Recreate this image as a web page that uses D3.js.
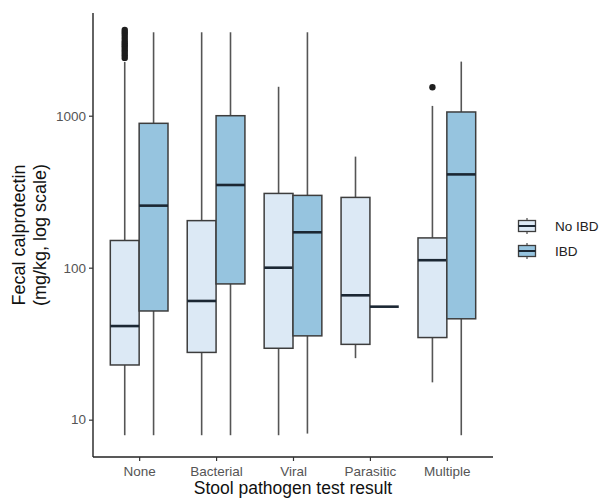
<!DOCTYPE html>
<html>
<head>
<meta charset="utf-8">
<script src="https://cdn.jsdelivr.net/npm/d3@7"></script>
<style>
  html, body { margin: 0; padding: 0; background: #fff; }
  svg { display: block; font-family: "Liberation Sans", Arial, sans-serif; }
</style>
</head>
<body>
<svg id="chart" width="600" height="498"></svg>
<script>
// ---- Data ----
const categories = ["None", "Bacterial", "Viral", "Parasitic", "Multiple"];
const groups = ["No IBD", "IBD"];

// No IBD box statistics per category
const noIbdLow    = [7.9, 7.9, 7.9, 25.4, 17.6];
const noIbdQ1     = [22.9, 27.7, 29.5, 31.3, 34.7];
const noIbdMedian = [41.3, 60.4, 100, 65.8, 112];
const noIbdQ3     = [151, 204, 308, 290, 157];
const noIbdHigh   = [2260, 3540, 1550, 538, 1160];

// IBD box statistics per category
const ibdLow    = [7.9, 7.9, 8.1, 55.4, 7.9];
const ibdQ1     = [51.9, 78.2, 35.6, 55.4, 46.1];
const ibdMedian = [256, 350, 171, 55.4, 411];
const ibdQ3     = [891, 1000, 299, 55.4, 1058];
const ibdHigh   = [3540, 3540, 3540, 55.4, 2270];

// Outliers
const outlierCategory = ["None", "None", "None", "None", "None", "None", "None", "None", "None", "None", "None", "None", "Multiple"];
const outlierGroup    = ["No IBD", "No IBD", "No IBD", "No IBD", "No IBD", "No IBD", "No IBD", "No IBD", "No IBD", "No IBD", "No IBD", "No IBD", "No IBD"];
const outlierValue    = [2400, 2500, 2600, 2700, 2800, 2900, 3000, 3100, 3250, 3400, 3530, 3660, 1540];

const yTicks = [10, 100, 1000];
const yTickLabels = ["10", "100", "1000"];

const xTitle = "Stool pathogen test result";
const yTitleLines = ["Fecal calprotectin", "(mg/kg, log scale)"];

(function draw() {
// ---- Build tables ----
const boxes = [];
categories.forEach((c, i) => {
  boxes.push({cat: c, grp: "No IBD", low: noIbdLow[i], q1: noIbdQ1[i], med: noIbdMedian[i], q3: noIbdQ3[i], high: noIbdHigh[i]});
  boxes.push({cat: c, grp: "IBD", low: ibdLow[i], q1: ibdQ1[i], med: ibdMedian[i], q3: ibdQ3[i], high: ibdHigh[i]});
});
const outliers = outlierValue.map((v, i) => ({cat: outlierCategory[i], grp: outlierGroup[i], v}));

// ---- Layout ----
const svg = d3.select("#chart");
const pLeft = 93, pRight = 493, pTop = 13, pBottom = 457;

const x = d3.scalePoint().domain(categories).range([pLeft, pRight]).padding(0.6);
const step = x.step();
const dodge = d3.scaleBand().domain(groups).range([-0.375 * step, 0.375 * step]);
const bw = dodge.bandwidth();

const y = d3.scaleLog().domain([5.68, 4740]).range([pBottom, pTop]);

const fill = d3.scaleOrdinal().domain(groups).range(["#dce9f5", "#96c4df"]);
const strokeCol = "#3d3d3d";
const whiskerCol = "#555";

// ---- Boxes ----
const g = svg.append("g");
const bx = d => x(d.cat) + dodge(d.grp);

const bg = g.selectAll("g.box").data(boxes).join("g").attr("class", "box");
bg.append("line")
  .attr("x1", d => bx(d) + bw / 2).attr("x2", d => bx(d) + bw / 2)
  .attr("y1", d => y(d.q3)).attr("y2", d => y(d.high))
  .attr("stroke", whiskerCol).attr("stroke-width", 1.6);
bg.append("line")
  .attr("x1", d => bx(d) + bw / 2).attr("x2", d => bx(d) + bw / 2)
  .attr("y1", d => y(d.q1)).attr("y2", d => y(d.low))
  .attr("stroke", whiskerCol).attr("stroke-width", 1.6);
bg.filter(d => d.q3 > d.q1).append("rect")
  .attr("x", d => bx(d)).attr("width", bw)
  .attr("y", d => y(d.q3)).attr("height", d => y(d.q1) - y(d.q3))
  .attr("fill", d => fill(d.grp))
  .attr("stroke", strokeCol).attr("stroke-width", 1.5);
bg.append("line")
  .attr("x1", d => bx(d)).attr("x2", d => bx(d) + bw)
  .attr("y1", d => y(d.med)).attr("y2", d => y(d.med))
  .attr("stroke", "#1b2733").attr("stroke-width", 2.6);

g.selectAll("circle.out").data(outliers).join("circle")
  .attr("class", "out")
  .attr("cx", d => x(d.cat) + dodge(d.grp) + bw / 2)
  .attr("cy", d => y(d.v))
  .attr("r", 3.2)
  .attr("fill", "#1e1e1e");

// ---- Axes ----
const yAxis = d3.axisLeft(y).tickValues(yTicks).tickFormat((d, i) => yTickLabels[i]).tickSize(4).tickPadding(3);
const ya = svg.append("g").attr("transform", `translate(${pLeft},0)`).call(yAxis);
ya.select(".domain").attr("d", `M0,${pTop}V${pBottom}`).attr("stroke", "#222").attr("stroke-width", 1.4);
ya.selectAll(".tick line").attr("stroke", "#333").attr("stroke-width", 1.2);
ya.selectAll(".tick text").attr("fill", "#555").attr("font-size", 13.5).attr("font-family", "Liberation Sans, Arial, sans-serif");

const xAxis = d3.axisBottom(x).tickSize(4).tickPadding(5);
const xa = svg.append("g").attr("transform", `translate(0,${pBottom})`).call(xAxis);
xa.select(".domain").attr("d", `M${pLeft},0H${pRight}`).attr("stroke", "#222").attr("stroke-width", 1.4);
xa.selectAll(".tick line").attr("stroke", "#333").attr("stroke-width", 1.2);
xa.selectAll(".tick text").attr("fill", "#555").attr("font-size", 13.5).attr("font-family", "Liberation Sans, Arial, sans-serif");

// ---- Titles ----
svg.append("text")
  .attr("x", (pLeft + pRight) / 2).attr("y", 494)
  .attr("text-anchor", "middle").attr("font-size", 17.5).attr("fill", "#111")
  .text(xTitle);

const yMid = (pTop + pBottom) / 2;
yTitleLines.forEach((t, i) => {
  svg.append("text")
    .attr("transform", `translate(${25 + i * 21},${yMid}) rotate(-90)`)
    .attr("text-anchor", "middle").attr("font-size", 18).attr("fill", "#111")
    .text(t);
});

// ---- Legend ----
const leg = svg.append("g").attr("transform", "translate(518,0)");
const legY = [226, 251];
groups.forEach((gname, i) => {
  const cy = legY[i];
  const k = leg.append("g");
  k.append("line").attr("x1", 9).attr("x2", 9).attr("y1", cy - 8).attr("y2", cy + 8)
    .attr("stroke", whiskerCol).attr("stroke-width", 1.3);
  k.append("rect").attr("x", 0.5).attr("y", cy - 5.5).attr("width", 17).attr("height", 11)
    .attr("fill", fill(gname)).attr("stroke", strokeCol).attr("stroke-width", 1.3);
  k.append("line").attr("x1", 0.5).attr("x2", 17.5).attr("y1", cy).attr("y2", cy)
    .attr("stroke", "#1b2733").attr("stroke-width", 2);
  leg.append("text").attr("x", 37).attr("y", cy).attr("dy", "0.35em")
    .attr("font-size", 13.5).attr("fill", "#222").text(gname);
});
})();
</script>
</body>
</html>
